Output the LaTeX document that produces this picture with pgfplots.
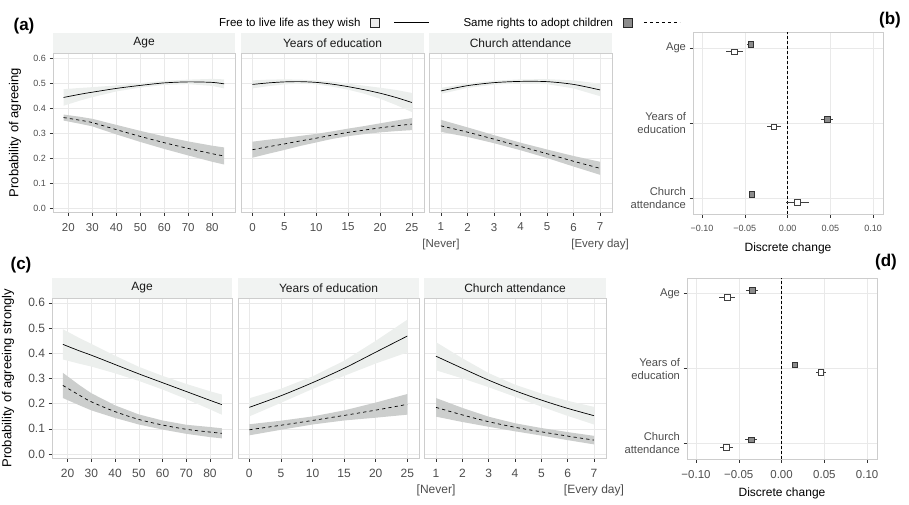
\documentclass[border=0pt]{standalone}
\usepackage{fontspec}
\setmainfont{Liberation Sans}
\usepackage{pgfplots}
\pgfplotsset{compat=1.18}
\usepackage{pgfplotstable}

\definecolor{freeband}{RGB}{236,239,237}
\definecolor{sameband}{RGB}{204,206,205}
\definecolor{stripc}{RGB}{241,243,242}
\definecolor{borderc}{RGB}{205,205,205}
\definecolor{gridc}{RGB}{233,233,233}
\definecolor{tickc}{RGB}{51,51,51}
\definecolor{ticklab}{RGB}{77,77,77}
\definecolor{samefill}{RGB}{140,140,140}
\definecolor{freebox}{RGB}{236,236,236}

% predicted probabilities: x, free (solid), same rights (dashed)
\pgfplotstableread{
x f s
18 0.443 0.363
25 0.456 0.352
30 0.464 0.343
40 0.479 0.315
50 0.491 0.288
60 0.501 0.263
70 0.505 0.240
80 0.503 0.219
85 0.497 0.210
}\tAge
% confidence bands: upper bound forward, lower bound backward
\pgfplotstableread{
x fy sy
18 0.476 0.375
25 0.481 0.366
30 0.484 0.358
40 0.491 0.334
50 0.500 0.310
60 0.509 0.288
70 0.514 0.268
80 0.517 0.251
85 0.515 0.244
85 0.479 0.176
80 0.489 0.187
70 0.496 0.212
60 0.493 0.238
50 0.482 0.266
40 0.467 0.296
30 0.444 0.328
25 0.431 0.338
18 0.410 0.351
}\tAgeB
\pgfplotstableread{
x f s
0 0.495 0.235
2.5 0.501 0.247
5 0.505 0.258
7.5 0.506 0.270
10 0.503 0.281
12.5 0.496 0.293
15 0.486 0.304
17.5 0.474 0.313
20 0.460 0.322
22.5 0.443 0.330
25 0.423 0.337
}\tEdu
\pgfplotstableread{
x fy sy
0 0.511 0.267
2.5 0.514 0.275
5 0.515 0.282
7.5 0.514 0.290
10 0.511 0.298
12.5 0.506 0.308
15 0.498 0.319
17.5 0.490 0.329
20 0.482 0.340
22.5 0.473 0.351
25 0.461 0.361
25 0.385 0.313
22.5 0.413 0.309
20 0.438 0.304
17.5 0.458 0.297
15 0.474 0.289
12.5 0.486 0.278
10 0.495 0.264
7.5 0.498 0.250
5 0.495 0.234
2.5 0.488 0.219
0 0.479 0.203
}\tEduB
\pgfplotstableread{
x f s
1 0.469 0.330
2 0.490 0.305
3 0.502 0.277
4 0.507 0.248
5 0.506 0.219
6 0.495 0.189
7 0.473 0.161
}\tChu
\pgfplotstableread{
x fy sy
1 0.481 0.354
2 0.499 0.324
3 0.510 0.293
4 0.515 0.263
5 0.516 0.236
6 0.511 0.210
7 0.498 0.187
7 0.448 0.135
6 0.479 0.168
5 0.496 0.202
4 0.499 0.233
3 0.494 0.261
2 0.481 0.286
1 0.457 0.306
}\tChuB
\pgfplotstableread{
x f s
18 0.435 0.272
25 0.409 0.233
30 0.392 0.207
40 0.355 0.168
50 0.318 0.137
60 0.283 0.115
70 0.248 0.098
80 0.213 0.087
85 0.196 0.082
}\bAge
\pgfplotstableread{
x fy sy
18 0.495 0.322
25 0.460 0.273
30 0.437 0.241
40 0.390 0.193
50 0.346 0.157
60 0.310 0.133
70 0.278 0.116
80 0.249 0.107
85 0.236 0.102
85 0.156 0.062
80 0.177 0.067
70 0.218 0.080
60 0.256 0.097
50 0.290 0.117
40 0.320 0.143
30 0.347 0.173
25 0.358 0.193
18 0.375 0.222
}\bAgeB
\pgfplotstableread{
x f s
0 0.185 0.096
5 0.231 0.114
10 0.283 0.133
15 0.340 0.153
20 0.404 0.174
25 0.468 0.197
}\bEdu
\pgfplotstableread{
x fy sy
0 0.221 0.118
5 0.259 0.132
10 0.308 0.149
15 0.370 0.173
20 0.449 0.204
25 0.533 0.238
25 0.403 0.156
20 0.359 0.144
15 0.310 0.133
10 0.258 0.117
5 0.203 0.096
0 0.149 0.074
}\bEduB
\pgfplotstableread{
x f s
1 0.388 0.185
2 0.340 0.155
3 0.293 0.128
4 0.251 0.106
5 0.214 0.088
6 0.181 0.071
7 0.152 0.055
}\bChu
\pgfplotstableread{
x fy sy
1 0.444 0.222
2 0.380 0.183
3 0.321 0.148
4 0.275 0.122
5 0.240 0.103
6 0.211 0.087
7 0.187 0.072
7 0.117 0.038
6 0.151 0.055
5 0.188 0.073
4 0.227 0.090
3 0.265 0.108
2 0.300 0.127
1 0.332 0.148
}\bChuB
% discrete changes: y position, estimate, half-width
\pgfplotstableread{
y x e
3.05 -0.043 0.004
2.05 0.046 0.0067
1.05 -0.042 0.003
}\dcbS
\pgfplotstableread{
y x e
2.95 -0.062 0.0096
1.95 -0.016 0.008
0.95 0.0115 0.013
}\dcbF
\pgfplotstableread{
y x e
3.05 -0.0344 0.007
2.05 0.0155 0.003
1.05 -0.0355 0.007
}\dcdS
\pgfplotstableread{
y x e
2.95 -0.0638 0.009
1.95 0.0457 0.006
0.95 -0.0645 0.008
}\dcdF

\pgfplotsset{
  base/.style={
    scale only axis, anchor=north west,
    grid=major, major grid style={draw=gridc, line width=0.5pt},
    axis line style={draw=borderc, line width=0.7pt},
    tick align=outside, tick pos=left, major tick length=3.5pt,
    tick style={draw=tickc, line width=0.5pt},
    ticklabel style={text=ticklab},
    xticklabel shift=4pt,
  },
  facet/.style={
    base, ymin=-0.013, ymax=0.62,
    ytick={0,0.1,0.2,0.3,0.4,0.5,0.6},
    every axis title/.style={at={(0.5,1)}, anchor=south, fill=stripc,
      inner sep=0pt, minimum height=20pt, text=black!90,
      font=\fontsize{12}{14}\selectfont},
  },
  inner/.style={ymajorticks=false},
  dw/.style={
    base, width=190pt,
    xmin=-0.1105, xmax=0.1115, ymin=0.79, ymax=3.21,
    xtick={-0.1,-0.05,0,0.05,0.1},
    xticklabels={−0.10,−0.05,0.00,0.05,0.10},
    ytick={1,2,3},
    yticklabels={{Church\\attendance},{Years of\\education},Age},
    yticklabel style={align=right, font=\fontsize{11.2}{13}\selectfont},
    xlabel={Discrete change},
    xlabel style={font=\fontsize{12}{14}\selectfont, anchor=center},
  },
}

\newcommand{\facetplots}[2]{%
  \addplot[fill=freeband, draw=none, forget plot] table[x=x,y=fy]{#2};
  \addplot[fill=sameband, draw=none, forget plot] table[x=x,y=sy]{#2};
  \addplot[black, line width=0.7pt, smooth, forget plot] table[x=x,y=f]{#1};
  \addplot[black, line width=0.7pt, smooth, dash pattern=on 3.2pt off 3.2pt, forget plot] table[x=x,y=s]{#1};
}
\newcommand{\dwplots}[2]{%
  \addplot[black, line width=0.8pt, dash pattern=on 3pt off 2pt, forget plot] coordinates {(0,0.79) (0,3.21)};
  \addplot[draw=none, mark=none, forget plot, error bars/.cd, x dir=both, x explicit, error mark=none,
    error bar style={draw=black!75, line width=0.6pt}] table[x=x,y=y,x error=e]{#1};
  \addplot[draw=none, mark=none, forget plot, error bars/.cd, x dir=both, x explicit, error mark=none,
    error bar style={draw=black!75, line width=0.6pt}] table[x=x,y=y,x error=e]{#2};
  \addplot[only marks, mark=square*, mark size=2.8pt, mark options={fill=samefill, draw=black!80, line width=0.5pt}, forget plot] table[x=x,y=y]{#1};
  \addplot[only marks, mark=square*, mark size=2.8pt, mark options={fill=white, draw=black!75, line width=0.5pt}, forget plot] table[x=x,y=y]{#2};
}

\begin{document}
\begin{tikzpicture}
\useasboundingbox (0pt,0pt) rectangle (909pt,-504pt);

% ---------- (a) ----------
\begin{axis}[facet, at={(53pt,-53pt)}, width=182pt, height=159pt,
  xmin=13.6, xmax=89.5, xtick={20,30,40,50,60,70,80},
  xticklabels={20,30,40,50,60,70,80},
  yticklabels={0.0,0.1,0.2,0.3,0.4,0.5,0.6},
  yticklabel style={font=\fontsize{9}{10}\selectfont},
  xticklabel style={font=\fontsize{11.5}{16.5}\selectfont},
  title={Age}, title style={minimum width=182pt},
  ylabel={Probability of agreeing},
  ylabel style={at={(axis description cs:-0.2088,0.5)}, anchor=center, font=\fontsize{13}{15}\selectfont},
  legend columns=2, legend plot pos=right,
  legend style={draw=none, fill=none, at={(axis description cs:0.8846,1.1906)}, anchor=west,
    font=\fontsize{11.5}{13}\selectfont,
    /tikz/every odd column/.append style={column sep=7.5pt},
    /tikz/every even column/.append style={column sep=32pt}},
]
\addlegendimage{legend image code/.code={
  \draw[draw=black!85, fill=freebox, line width=0.5pt] (-22pt,-4.6pt) rectangle (-12.5pt,4.6pt);
  \draw[black, line width=0.7pt] (2pt,0pt) -- (37pt,0pt);}}
\addlegendentry{Free to live life as they wish}
\addlegendimage{legend image code/.code={
  \draw[draw=black!85, fill=samefill, line width=0.5pt] (-12pt,-4.6pt) rectangle (-3pt,4.6pt);
  \draw[black, line width=0.7pt, dash pattern=on 3pt off 3pt] (9pt,0pt) -- (45pt,0pt);}}
\addlegendentry{Same rights to adopt children}
\facetplots{\tAge}{\tAgeB}
\end{axis}

\begin{axis}[facet, inner, at={(241pt,-53pt)}, width=183pt, height=159pt,
  xmin=-1.8, xmax=26.9, xtick={0,5,10,15,20,25},
  xticklabels={0,5,10,15,20,25},
  xticklabel style={font=\fontsize{11.5}{16.5}\selectfont},
  title={Years of education}, title style={minimum width=183pt}]
\facetplots{\tEdu}{\tEduB}
\end{axis}

\begin{axis}[facet, inner, at={(429pt,-53pt)}, width=183pt, height=159pt,
  xmin=0.55, xmax=7.45, xtick={1,2,3,4,5,6,7},
  xticklabels={{1\\{[Never]}},2,3,4,5,6,{7\\{[Every day]}}},
  xticklabel style={align=center, font=\fontsize{11.5}{16.5}\selectfont},
  title={Church attendance}, title style={minimum width=183pt}]
\facetplots{\tChu}{\tChuB}
\end{axis}

% ---------- (b) ----------
\begin{axis}[dw, at={(693pt,-32pt)}, height=182pt,
  xticklabel style={font=\fontsize{9}{10}\selectfont},
  xlabel style={at={(axis description cs:0.5,-0.1868)}}]
\dwplots{\dcbS}{\dcbF}
\end{axis}

% ---------- (c) ----------
\begin{axis}[facet, at={(52pt,-298pt)}, width=180pt, height=160pt,
  ymin=-0.016, ymax=0.619,
  xmin=13.4, xmax=89.3, xtick={20,30,40,50,60,70,80},
  xticklabels={20,30,40,50,60,70,80},
  yticklabels={0.0,0.1,0.2,0.3,0.4,0.5,0.6},
  ticklabel style={font=\fontsize{12}{16.3}\selectfont},
  title={Age}, title style={minimum width=180pt},
  ylabel={Probability of agreeing strongly},
  ylabel style={at={(axis description cs:-0.2444,0.5)}, anchor=center, font=\fontsize{13}{15}\selectfont}]
\facetplots{\bAge}{\bAgeB}
\end{axis}

\begin{axis}[facet, inner, at={(238pt,-298pt)}, width=181pt, height=160pt,
  ymin=-0.016, ymax=0.619,
  xmin=-1.79, xmax=26.85, xtick={0,5,10,15,20,25},
  xticklabels={0,5,10,15,20,25},
  xticklabel style={font=\fontsize{12}{16.3}\selectfont},
  title={Years of education}, title style={minimum width=181pt}]
\facetplots{\bEdu}{\bEduB}
\end{axis}

\begin{axis}[facet, inner, at={(424pt,-298pt)}, width=182pt, height=160pt,
  ymin=-0.016, ymax=0.619,
  xmin=0.544, xmax=7.456, xtick={1,2,3,4,5,6,7},
  xticklabels={{1\\{[Never]}},2,3,4,5,6,{7\\{[Every day]}}},
  xticklabel style={align=center, font=\fontsize{12}{16.3}\selectfont},
  title={Church attendance}, title style={minimum width=182pt}]
\facetplots{\bChu}{\bChuB}
\end{axis}

% ---------- (d) ----------
\begin{axis}[dw, at={(687pt,-278pt)}, height=181pt,
  xticklabel style={font=\fontsize{11.5}{13}\selectfont},
  xlabel style={at={(axis description cs:0.5,-0.1878)}}]
\dwplots{\dcdS}{\dcdF}
\end{axis}

\node[font=\bfseries\fontsize{17}{20}\selectfont] at (24pt,-26.5pt) {(a)};
\node[font=\bfseries\fontsize{17}{20}\selectfont] at (890pt,-20pt) {(b)};
\node[font=\bfseries\fontsize{17}{20}\selectfont] at (21pt,-265.5pt) {(c)};
\node[font=\bfseries\fontsize{17}{20}\selectfont] at (886pt,-262pt) {(d)};
\end{tikzpicture}
\end{document}
